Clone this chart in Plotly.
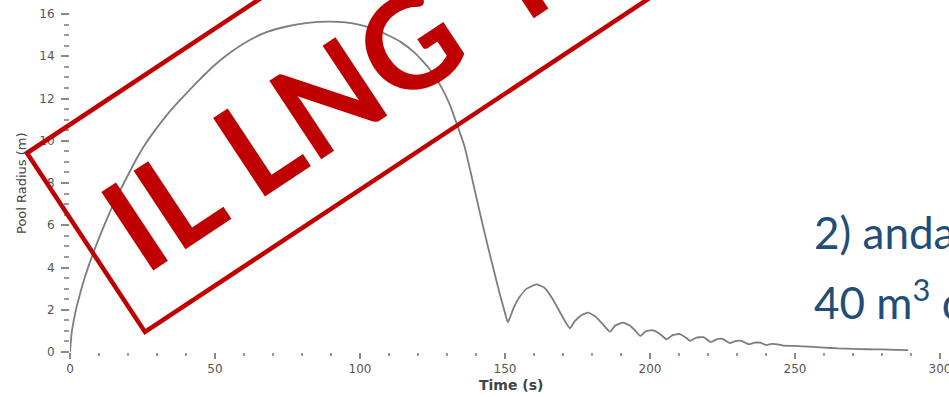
import math
import plotly.graph_objects as go

# Pool radius history of the LNG spill (time in s, radius in m)
time_s = [0, 0.5, 1, 2, 3.5, 5, 7, 9, 11.5, 14, 17, 20, 23, 26, 30, 34, 38, 44, 50, 56, 62,
          68, 75, 82, 89, 95, 100, 105, 110, 114, 119, 124, 128, 131, 133.5, 136, 138, 140, 142,
          144, 146, 148, 150, 151,
          153, 155, 157.5, 160.9, 163.5, 166, 168.5, 170.5, 172.4,
          174, 176.5, 178.7, 181, 183.5, 186.2,
          188, 190.7, 193, 195, 196.6,
          198.5, 200.6, 203, 205.7,
          207.8, 210.3, 212.2, 213.8,
          216, 218.5, 221, 223, 225, 227.5, 229.5, 231.5, 234, 236, 238, 240, 242, 244, 246,
          250, 255, 260, 265, 270, 275, 280, 285, 289]
pool_radius_m = [0, 0.82, 1.27, 1.97, 2.77, 3.49, 4.3, 5.05, 5.9, 6.7, 7.57, 8.38, 9.16, 9.85,
                 10.62, 11.32, 11.93, 12.8, 13.6, 14.25, 14.77, 15.15, 15.42, 15.58, 15.64,
                 15.6, 15.48, 15.27, 14.97, 14.68, 14.15, 13.4, 12.55, 11.7, 10.75, 9.75, 8.6,
                 7.4, 6.2, 5.05, 3.95, 2.85, 1.85, 1.4,
                 2.1, 2.6, 3.0, 3.2, 3.05, 2.6, 2.0, 1.5, 1.12,
                 1.45, 1.75, 1.86, 1.7, 1.35, 0.96,
                 1.25, 1.39, 1.25, 1.0, 0.76,
                 0.97, 1.04, 0.9, 0.6,
                 0.8, 0.85, 0.7, 0.53,
                 0.68, 0.7, 0.47, 0.6, 0.62, 0.42, 0.52, 0.53, 0.37, 0.44, 0.44, 0.33, 0.38,
                 0.36, 0.3,
                 0.29, 0.25, 0.21, 0.17, 0.15, 0.13, 0.12, 0.1, 0.09]

x_title = "Time (s)"
y_title = "Pool Radius (m)"
stamp_words = ["IL LNG", "IN"]
caption_lines = ["2) andamento", "40 m<sup>3</sup> di"]

W, H = 949, 397
L, R, T, B = 70, 940, 14, 352


def px(x, y):
    """Pixel position -> paper coordinates."""
    return (x - L) / (R - L), (B - y) / (B - T)


# Rotated stamp frame: u along the text, n across it
ang = math.radians(33.5)
ux, uy = math.cos(ang), -math.sin(ang)
nx, ny = math.sin(ang), math.cos(ang)


def stamp_point(u, n):
    return u * ux + n * nx, u * uy + n * ny


fig = go.Figure()
fig.add_trace(go.Scatter(
    x=time_s, y=pool_radius_m, mode="lines",
    line=dict(color="#7d7d7d", width=1.8, shape="spline", smoothing=0.4),
    hoverinfo="skip", showlegend=False,
))

tick_font = dict(family="DejaVu Sans, sans-serif", size=12, color="#555555")

fig.update_layout(
    width=W, height=H, autosize=False,
    margin=dict(l=L, r=W - R, t=T, b=H - B),
    paper_bgcolor="white", plot_bgcolor="white",
    xaxis=dict(range=[0, 300], tickmode="linear", tick0=0, dtick=50,
               ticks="outside", ticklen=6, tickwidth=1.5, tickcolor="#8a8a8a",
               minor=dict(ticks="outside", dtick=10, ticklen=3, tickwidth=2, tickcolor="#9a9a9a"),
               ticklabeloverflow="allow", automargin=False,
               showgrid=False, zeroline=False, showline=False, tickfont=tick_font),
    yaxis=dict(range=[0, 16], tickmode="linear", tick0=0, dtick=2,
               ticks="outside", ticklen=8, tickwidth=1.5, tickcolor="#8a8a8a",
               minor=dict(ticks="outside", dtick=0.5, ticklen=5, tickwidth=2, tickcolor="#9a9a9a"),
               ticklabelstandoff=4, automargin=False,
               showgrid=False, zeroline=False, showline=False, tickfont=tick_font),
)

annotations = []
# Axis titles
ax, ay = px(511, 385)
annotations.append(dict(x=ax, y=ay, xref="paper", yref="paper", text=f"<b>{x_title}</b>",
                        showarrow=False, xanchor="center", yanchor="middle",
                        font=dict(family="DejaVu Sans, sans-serif", size=14, color="#444444")))
ax, ay = px(21, 183)
annotations.append(dict(x=ax, y=ay, xref="paper", yref="paper", text=y_title, textangle=-90,
                        showarrow=False, xanchor="center", yanchor="middle",
                        font=dict(family="DejaVu Sans, sans-serif", size=13, color="#444444")))

# Stamp lettering
stamp_red = "#C00000"
for word, u_c in zip(stamp_words, [166.5, 494]):
    sx, sy = stamp_point(u_c, 260)
    ax, ay = px(sx, sy)
    annotations.append(dict(x=ax, y=ay, xref="paper", yref="paper", text=f"<b>{word}</b>",
                            textangle=-33.5, showarrow=False, xanchor="center", yanchor="middle",
                            font=dict(family="Lato", size=130, color=stamp_red)))

# Caption on the right
for line, cy in zip(caption_lines, [232, 299]):
    ax, ay = px(812, cy)
    annotations.append(dict(x=ax, y=ay, xref="paper", yref="paper", text=line,
                            showarrow=False, xanchor="left", yanchor="middle",
                            font=dict(family="Lato", size=44, color="#1F4E79")))

fig.update_layout(annotations=annotations)

# Stamp border: long rotated rectangle running off the top edge
a = (27, 153)
b = (145, 332)
c = (b[0] + 900 * ux, b[1] + 900 * uy)
d = (a[0] + 900 * ux, a[1] + 900 * uy)
pts = [px(*p) for p in (a, b, c, d)]
path = "M " + " L ".join(f"{x:.5f},{y:.5f}" for x, y in pts) + " Z"
fig.add_shape(type="path", path=path, xref="paper", yref="paper",
              line=dict(color=stamp_red, width=4.5), fillcolor="rgba(0,0,0,0)", layer="above")

fig.write_html("out.html")
